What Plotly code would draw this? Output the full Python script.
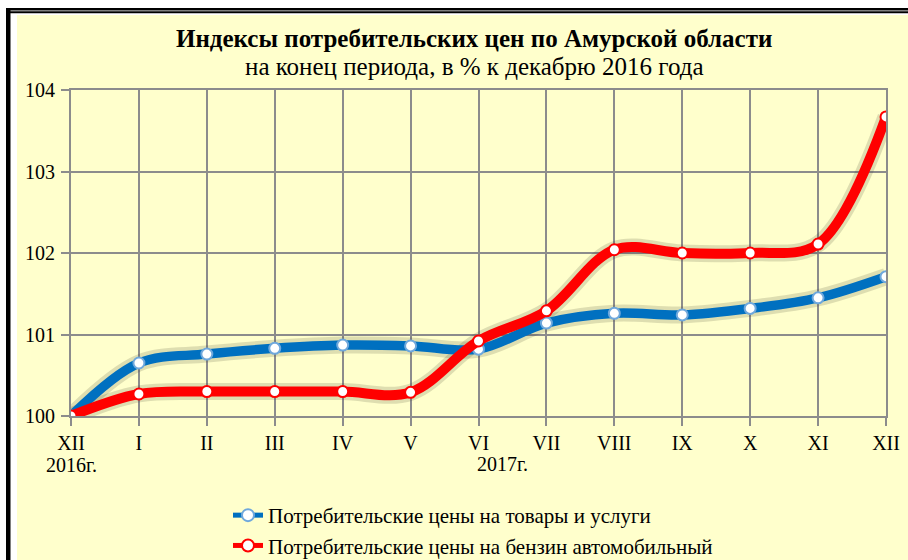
import plotly.graph_objects as go

months = ["XII", "I", "II", "III", "IV", "V", "VI", "VII", "VIII", "IX", "X", "XI", "XII"]
goods_services = [100.0, 100.65, 100.76, 100.83, 100.87, 100.86, 100.82, 101.14, 101.26, 101.24, 101.32, 101.45, 101.71]
gasoline = [100.0, 100.27, 100.30, 100.30, 100.30, 100.29, 100.92, 101.29, 102.04, 102.0, 102.0, 102.11, 103.67]
y_ticks = [100, 101, 102, 103, 104]

name_goods = "Потребительские цены на товары и услуги"
name_gas = "Потребительские цены на бензин автомобильный"

W, H = 908, 560
ML, MR, MT, MB = 71, 22, 90, 144
PW, PH = W - ML - MR, H - MT - MB

def px(x):
    return (x - ML) / PW

def py(y):
    return (H - MB - y) / PH

FONT = "Liberation Serif, Times New Roman, serif"
x_idx = list(range(len(months)))

fig = go.Figure()

for vals in (goods_services, gasoline):
    fig.add_trace(go.Scatter(
        x=x_idx, y=vals, mode="lines", showlegend=False, hoverinfo="skip",
        line=dict(color="rgba(60,60,40,0.17)", width=17, shape="spline"),
    ))

fig.add_trace(go.Scatter(
    x=x_idx, y=goods_services, name=name_goods, mode="lines+markers",
    line=dict(color="#0070C0", width=9.5, shape="spline"),
    marker=dict(size=11, color="white", line=dict(color="#6FA8DC", width=2)),
))
fig.add_trace(go.Scatter(
    x=x_idx, y=gasoline, name=name_gas, mode="lines+markers",
    line=dict(color="#FF0000", width=10, shape="spline"),
    marker=dict(size=11, color="white", line=dict(color="#FF0000", width=2)),
))

shapes = [
    dict(type="rect", xref="paper", yref="paper", x0=px(17), x1=px(W + 5), y0=py(H + 5), y1=py(15),
         fillcolor="#FFFFCC", line=dict(width=0), layer="below"),
    dict(type="rect", xref="paper", yref="paper", x0=px(6), x1=px(10.5), y0=py(H + 5), y1=py(8),
         fillcolor="black", line=dict(width=0), layer="below"),
    dict(type="rect", xref="paper", yref="paper", x0=px(6), x1=px(W + 5), y0=py(10.5), y1=py(8),
         fillcolor="black", line=dict(width=0), layer="below"),
    dict(type="rect", xref="paper", yref="paper", x0=px(8), x1=px(W + 5), y0=py(13.3), y1=py(11.2),
         fillcolor="black", line=dict(width=0), layer="below"),
]

annotations = [
    dict(text="<b>Индексы потребительских цен по Амурской области</b>", xref="paper", yref="paper",
         x=px(474), y=py(38), xanchor="center", yanchor="middle", showarrow=False,
         font=dict(family=FONT, size=25, color="black")),
    dict(text="на конец периода, в % к декабрю 2016 года", xref="paper", yref="paper",
         x=px(474), y=py(67), xanchor="center", yanchor="middle", showarrow=False,
         font=dict(family=FONT, size=25, color="black")),
    dict(text="2016г.", xref="x", yref="paper", x=0, y=py(465), xanchor="center", yanchor="middle",
         showarrow=False, font=dict(family=FONT, size=20, color="black")),
    dict(text="2017г.", xref="x", yref="paper", x=6.35, y=py(464), xanchor="center", yanchor="middle",
         showarrow=False, font=dict(family=FONT, size=20, color="black")),
]

fig.update_layout(
    width=W, height=H,
    margin=dict(l=ML, r=MR, t=MT, b=MB, autoexpand=False),
    paper_bgcolor="white", plot_bgcolor="rgba(0,0,0,0)",
    shapes=shapes, annotations=annotations,
    showlegend=True,
    legend=dict(x=px(228), y=py(566), xanchor="left", yanchor="bottom", orientation="v",
                bgcolor="rgba(0,0,0,0)", font=dict(family=FONT, size=21, color="black"),
                tracegroupgap=0, itemsizing="constant"),
    xaxis=dict(range=[0, 12], tickmode="array", tickvals=x_idx, ticktext=months,
               showgrid=True, gridcolor="#8C8C8C", gridwidth=2,
               showline=True, linecolor="#8C8C8C", linewidth=2, mirror=True,
               ticks="outside", ticklen=8, tickcolor="#8C8C8C", tickwidth=2,
               tickfont=dict(family=FONT, size=20, color="black"), zeroline=False, fixedrange=True),
    yaxis=dict(range=[100, 104], tickmode="array", tickvals=y_ticks, ticktext=[str(v) for v in y_ticks],
               showgrid=True, gridcolor="#8C8C8C", gridwidth=2,
               showline=True, linecolor="#8C8C8C", linewidth=2, mirror=True,
               ticks="outside", ticklen=8, tickcolor="#8C8C8C", tickwidth=2, ticklabelstandoff=2,
               tickfont=dict(family=FONT, size=20, color="black"), zeroline=False, fixedrange=True),
)

fig.write_html("out.html", config={"displayModeBar": False},
               post_script="document.body.style.margin='0px';document.body.style.overflow='hidden';")
